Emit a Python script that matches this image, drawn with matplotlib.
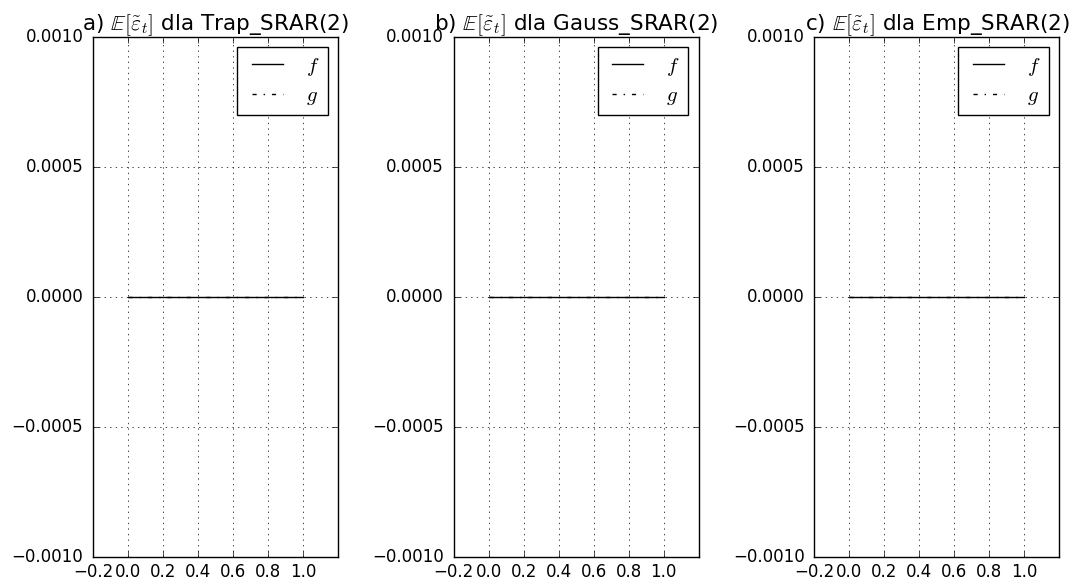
import matplotlib
matplotlib.use("Agg")
import matplotlib.pyplot as plt

plt.style.use("classic")

# Mean residual curves on a grid of t in [0, 1]
t = [0.0, 0.1, 0.2, 0.3, 0.4, 0.5, 0.6, 0.7, 0.8, 0.9, 1.0]
mean_f = {
    "Trap_SRAR(2)": [0.0] * 11,
    "Gauss_SRAR(2)": [0.0] * 11,
    "Emp_SRAR(2)": [0.0] * 11,
}
mean_g = {
    "Trap_SRAR(2)": [0.0] * 11,
    "Gauss_SRAR(2)": [0.0] * 11,
    "Emp_SRAR(2)": [0.0] * 11,
}
panel_letters = ["a)", "b)", "c)"]
models = ["Trap_SRAR(2)", "Gauss_SRAR(2)", "Emp_SRAR(2)"]
x_ticks = [-0.2, 0.0, 0.2, 0.4, 0.6, 0.8, 1.0]
y_ticks = [-0.001, -0.0005, 0.0, 0.0005, 0.001]

fig, axes = plt.subplots(1, 3, figsize=(10.7, 5.83), dpi=100)
fig.patch.set_facecolor("white")
fig.subplots_adjust(left=0.087, right=0.99, top=0.9365, bottom=0.0446, wspace=0.473)

for ax, letter, model in zip(axes, panel_letters, models):
    ax.plot(t, mean_f[model], color="black", linestyle="-", label=r"$f$")
    ax.plot(t, mean_g[model], color="black", linestyle="-.", label=r"$g$")
    ax.set_xlim(-0.2, 1.2)
    ax.set_ylim(-0.001, 0.001)
    ax.set_xticks(x_ticks)
    ax.set_yticks(y_ticks)
    ax.set_xticklabels([f"{v:.1f}".replace("-", "\u2212") for v in x_ticks])
    ax.set_yticklabels([f"{v:.4f}".replace("-", "\u2212") for v in y_ticks])
    ax.tick_params(axis="y", pad=7)
    ax.grid(True)
    ax.set_title(letter + r" $\mathbb{E}[\tilde{\varepsilon}_t]$ dla " + model, fontsize=15.5)
    ax.legend(loc="upper right", fontsize=15, handlelength=2.1, labelspacing=0.35)

fig.savefig("out.png", dpi=100, facecolor="white")
